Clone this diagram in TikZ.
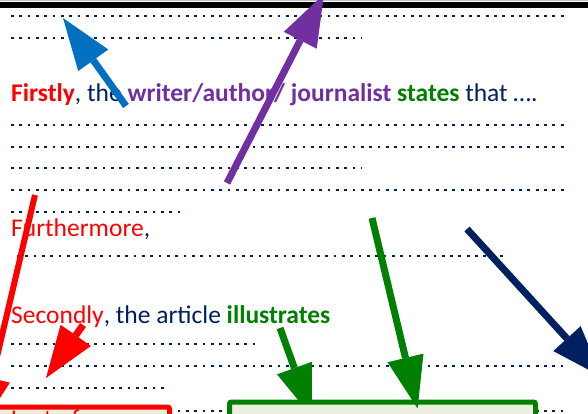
\documentclass[tikz,border=0pt]{standalone}
\usepackage{fontspec}
\setmainfont{Carlito}
\usetikzlibrary{arrows.meta}
\definecolor{navytxt}{HTML}{002060}
\definecolor{purp}{HTML}{7030A0}
\definecolor{grn}{HTML}{008000}
\definecolor{arrblue}{HTML}{0070C0}
\definecolor{boxfill}{HTML}{EBF1DE}

\begin{document}
\begin{tikzpicture}[x=1pt,y=-1pt,
    dotrow/.style={navytxt,line width=2.8pt,dash pattern=on 2.8pt off 5.53pt},
    arr/.style={line width=7pt,-{Triangle[length=52pt,width=37pt,line width=0pt]}},
    txt/.style={anchor=base west,inner sep=0pt,font=\fontsize{25.5}{30}\selectfont,navytxt},
    box/.style={anchor=north west,line width=5pt,fill=boxfill,rounded corners=2pt,
                minimum height=40pt,inner sep=0pt}]
  \useasboundingbox (0,0) rectangle (588,414);
  \clip (0,0) rectangle (588,414);
  % rule at the top of the page
  \draw[gray!50,line width=1.5pt] (0,0.75) -- (588,0.75);
  \draw[line width=6pt] (0,5) -- (588,5);
  % dotted writing lines
  \foreach \y/\a/\b in {16/11/564,38/11/361,125/11/564,147/11/564,168/11/361,
      190/11/564,212/11/183,256/17/508,344/11/260,366/11/563,388/11/165,411/11/563}
    \draw[dotrow] (\a,\y) -- (\b,\y);
  % sentence starters
  \node[txt] (firstly) at (11,102) {\textbf{\color{red}Firstly}, the
    \textbf{\color{purp}writer/author/ journalist} \textbf{\color{grn}states} that ….};
  \node[txt] (further) at (11,236) {{\color{red}Furthermore},};
  \node[txt] (second) at (11,323) {{\color{red}Secondly}, the article
    \textbf{\color{grn}illustrates}};
  % arrow ends
  \coordinate (blueS) at (126,106);   \coordinate (blueE) at (63,18);
  \coordinate (purpS) at (227,183);   \coordinate (purpE) at (324,-6);
  \coordinate (redS) at (35,195);     \coordinate (redE) at (-20,429);
  \coordinate (redsS) at (83,325);    \coordinate (redsE) at (46,378);
  \coordinate (grnsS) at (280,328);   \coordinate (grnsE) at (312,417);
  \coordinate (grnlS) at (372,218);   \coordinate (grnlE) at (417.6,408.5);
  \coordinate (navyS) at (467,229);   \coordinate (navyE) at (602,377);
  \draw[arr,grn] (grnsS) -- (grnsE);
  % boxes at the foot
  \node[box,draw=red,minimum width=177pt] (lastbox) at (-10,404.5) {};
  \node[box,draw=grn,minimum width=306pt] (greenbox) at (227,399.5) {};
  \node[txt,red] (lastly) at (11,427) {Last of};
  % arrows
  \draw[arr,arrblue] (blueS) -- (blueE);
  \draw[arr,purp] (purpS) -- (purpE);
  \draw[arr,red,line width=6pt] (redS) -- (redE);
  \draw[arr,red] (redsS) -- (redsE);
  \draw[arr,grn] (grnlS) -- (grnlE);
  \draw[arr,navytxt] (navyS) -- (navyE);
\end{tikzpicture}
\end{document}
